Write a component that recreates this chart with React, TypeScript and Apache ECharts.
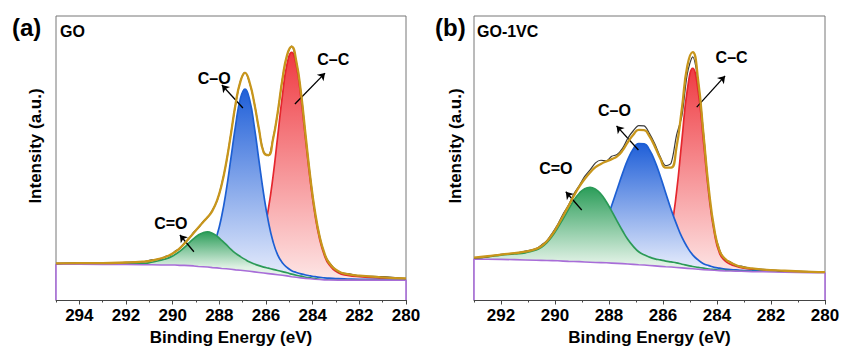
import React, { useEffect, useRef } from "react";
import * as echarts from "echarts";

const FONT = "'Liberation Sans', Arial, Helvetica, sans-serif";

// ---------- Panel (a): GO ----------
const X_A = [
  295, 294, 293, 292, 291.3, 290.9, 290.5, 290.3, 290.1, 289.9,
  289.7, 289.5, 289.3, 289.1, 288.9, 288.7, 288.5, 288.3, 288.1, 287.9,
  287.7, 287.5, 287.3, 287.1, 286.9, 286.7, 286.5, 286.3, 286.1, 285.9,
  285.7, 285.5, 285.3, 285.1, 284.9, 284.7, 284.5, 284.3, 284.1, 283.9,
  283.7, 283.5, 283.3, 282.9, 282.5, 282, 281, 280,
];
const BG_A = [
  12.6, 12.6, 12.5, 12.5, 12.4, 12.4, 12.3, 12.3, 12.3, 12.3,
  12.2, 12.2, 12.1, 12.0, 11.8, 11.7, 11.6, 11.4, 11.3, 11.1,
  11.0, 10.8, 10.6, 10.5, 10.3, 10.1, 9.9, 9.7, 9.5, 9.3,
  9.1, 8.9, 8.7, 8.5, 8.2, 8.0, 7.8, 7.6, 7.5, 7.3,
  7.2, 7.1, 7.05, 7.0, 7.0, 7.0, 7.0, 7.0,
];
const CC_A = [
  12.8, 12.8, 12.7, 12.8, 12.7, 12.7, 12.7, 12.7, 12.7, 12.7,
  12.6, 12.7, 12.6, 12.6, 12.5, 12.4, 12.4, 12.3, 12.3, 12.2,
  12.3, 12.3, 12.3, 12.5, 12.9, 13.7, 15.3, 18.4, 23.7, 32.0,
  43.4, 57.5, 71.8, 83.0, 87.2, 82.5, 70.9, 56.2, 41.8, 30.0,
  21.4, 15.8, 12.5, 9.6, 8.7, 8.2, 7.7, 7.4,
];
const CO_A = [
  12.8, 12.8, 12.8, 12.8, 12.8, 12.9, 12.9, 13.0, 13.1, 13.2,
  13.2, 13.4, 13.5, 13.7, 13.9, 14.7, 16.0, 18.4, 22.8, 29.5,
  38.8, 50.1, 61.7, 70.8, 74.3, 70.4, 61.0, 49.0, 37.3, 27.7,
  20.6, 15.9, 13.1, 11.5, 10.3, 9.7, 9.2, 8.8, 8.5, 8.2,
  8.0, 7.8, 7.7, 7.5, 7.4, 7.3, 7.2, 7.2,
];
const CDO_A = [
  12.6, 12.6, 12.55, 12.6, 12.8, 13.3, 14.0, 14.5, 15.1, 16.0,
  17.1, 18.5, 20.1, 21.6, 22.9, 23.7, 24.0, 23.5, 22.5, 21.0,
  19.5, 17.8, 16.4, 15.3, 14.3, 13.4, 12.7, 12.1, 11.6, 11.2,
  10.8, 10.4, 10.0, 9.6, 9.1, 8.7, 8.4, 8.0, 7.8, 7.5,
  7.3, 7.1, 7.05, 7.0, 7.0, 7.0, 7.0, 7.0,
];
const ENV_A = [
  12.9, 13.0, 13.0, 13.2, 13.5, 13.9, 14.7, 15.2, 15.9, 16.9,
  18.2, 19.8, 21.7, 23.6, 25.5, 27.4, 29.2, 31.4, 35.0, 40.6,
  48.6, 58.6, 69.2, 76.8, 80.0, 76.5, 69.2, 60.1, 52.0, 51.0,
  56.6, 66.0, 77.5, 86.2, 89.2, 84.0, 72.9, 57.8, 43.1, 31.1,
  22.3, 16.6, 13.1, 10.1, 9.1, 8.6, 8.0, 7.6,
];
const RAW_A = [
  12.8, 13.1, 12.9, 13.3, 13.4, 14.1, 14.5, 15.4, 15.7, 17.2,
  18.0, 20.1, 21.5, 23.9, 25.3, 27.6, 29.1, 31.6, 34.8, 40.8,
  48.4, 58.8, 69.0, 77.0, 80.2, 76.3, 69.4, 59.9, 52.2, 50.8,
  56.8, 65.8, 77.7, 86.0, 89.4, 83.8, 73.1, 57.6, 43.3, 30.9,
  22.5, 16.4, 13.3, 9.9, 9.3, 8.5, 8.2, 7.5,
];

// ---------- Panel (b): GO-1VC ----------
const X_B = [
  293, 292.5, 292, 291.5, 291.1, 290.7, 290.5, 290.3, 290.1, 289.9,
  289.7, 289.5, 289.3, 289.1, 288.9, 288.7, 288.5, 288.3, 288.1, 287.9,
  287.7, 287.5, 287.3, 287.1, 286.9, 286.7, 286.5, 286.3, 286.1, 285.9,
  285.7, 285.5, 285.3, 285.1, 284.9, 284.7, 284.5, 284.3, 284.1, 283.9,
  283.7, 283.5, 283.3, 283.1, 282.7, 282.3, 281.5, 280.5, 280,
];
const BG_B = [
  14.4, 14.35, 14.3, 14.2, 14.1, 14.0, 13.95, 13.9, 13.85, 13.8,
  13.7, 13.6, 13.55, 13.5, 13.4, 13.3, 13.2, 13.15, 13.1, 13.0,
  12.9, 12.8, 12.7, 12.55, 12.4, 12.3, 12.15, 12.0, 11.85, 11.7,
  11.6, 11.45, 11.3, 11.15, 11.0, 10.85, 10.7, 10.6, 10.45, 10.35,
  10.25, 10.2, 10.15, 10.1, 10.0, 9.95, 9.8, 9.65, 9.6,
];
const CC_B = [
  14.45, 14.4, 14.4, 14.3, 14.2, 14.1, 14.05, 14.0, 14.0, 13.9,
  13.9, 13.8, 13.7, 13.7, 13.6, 13.55, 13.5, 13.5, 13.5, 13.4,
  13.4, 13.4, 13.4, 13.4, 13.4, 13.6, 13.9, 14.4, 15.4, 17.6,
  24.8, 37.9, 56.3, 74.0, 81.6, 73.7, 55.7, 37.0, 23.7, 16.3,
  13.8, 12.6, 11.9, 11.4, 10.8, 10.5, 10.1, 9.8, 9.7,
];
const CO_B = [
  14.5, 14.5, 14.5, 14.4, 14.3, 14.3, 14.3, 14.3, 14.4, 14.4,
  14.5, 14.6, 15.1, 15.6, 16.6, 18.2, 20.6, 24.0, 28.3, 33.3,
  38.9, 44.5, 49.5, 53.2, 55.1, 55.0, 52.8, 48.8, 43.6, 37.7,
  31.9, 26.7, 22.1, 18.6, 15.9, 14.1, 12.8, 12.1, 11.5, 11.2,
  10.9, 10.7, 10.6, 10.4, 10.3, 10.2, 10.0, 9.7, 9.7,
];
const CDO_B = [
  14.8, 15.2, 15.8, 16.2, 16.6, 17.6, 18.6, 20.2, 22.5, 25.4,
  28.6, 31.9, 35.1, 37.6, 39.2, 39.7, 39.0, 37.3, 34.6, 31.3,
  27.8, 24.4, 21.3, 18.9, 17.0, 15.9, 15.1, 14.5, 14.1, 13.7,
  13.4, 13.1, 12.6, 12.2, 11.8, 11.5, 11.2, 10.9, 10.7, 10.5,
  10.4, 10.25, 10.15, 10.1, 10.0, 9.95, 9.8, 9.65, 9.6,
];
const ENV_B = [
  14.9, 15.4, 16.0, 16.5, 17.0, 18.0, 19.0, 20.7, 23.1, 26.2,
  29.6, 33.1, 36.7, 39.9, 42.6, 44.9, 46.8, 47.9, 48.8, 49.6,
  50.6, 52.6, 55.6, 58.2, 59.9, 59.8, 57.6, 54.0, 49.8, 46.6,
  46.6, 53.8, 67.5, 82.4, 87.3, 77.5, 58.3, 38.8, 24.9, 17.2,
  14.5, 13.2, 12.3, 11.7, 11.1, 10.7, 10.3, 9.9, 9.8,
];
const RAW_B = [
  14.7, 15.2, 16.1, 16.4, 17.2, 18.1, 19.4, 20.9, 23.6, 26.6,
  30.3, 33.4, 37.4, 40.3, 43.5, 45.8, 48.3, 49.2, 49.0, 50.6,
  51.2, 53.4, 57.0, 59.6, 61.4, 61.3, 58.6, 54.9, 50.4, 47.3,
  48.2, 58.0, 64.8, 79.6, 85.6, 77.0, 58.9, 38.2, 24.5, 17.5,
  14.2, 13.4, 12.1, 11.9, 11.0, 10.8, 10.2, 10.0, 9.7,
];

// Annotations: label centre, arrow tail, arrow head (data units)
const NOTES_A = [
  { text: "C–C", at: [283.12, 84.8], from: [284.76, 69.0], to: [283.47, 79.9] },
  { text: "C–O", at: [288.22, 77.9], from: [286.99, 67.6], to: [287.89, 75.7] },
  { text: "C=O", at: [290.08, 27.1], from: [289.09, 17.0], to: [289.69, 22.9] },
];
const NOTES_B = [
  { text: "C–C", at: [283.46, 85.4], from: [284.75, 67.9], to: [283.7, 78.9] },
  { text: "C–O", at: [287.8, 66.6], from: [286.91, 52.8], to: [287.72, 61.3] },
  { text: "C=O", at: [289.97, 46.4], from: [289.01, 31.7], to: [289.6, 38.1] },
];

const pairs = (xs: number[], ys: number[]) =>
  xs.slice(0, Math.min(xs.length, ys.length)).map((x, i) => [x, ys[i]]);

const COLORS = {
  red: { line: "#e5262d", top: "#ef3b42", pale: "#fde2e2" },
  blue: { line: "#1d5fd3", top: "#1f5fd8", pale: "#e2e9fb" },
  green: { line: "#2b9a57", top: "#2b9d59", pale: "#dff1e4" },
  env: "#c8961c",
  bg: "#a86dd8",
  raw: "#3a3a3a",
};

function compSeries(xs: number[], ys: number[], c: any, paleStop: number, xi: number, yi: number, z: number) {
  return {
    type: "line",
    xAxisIndex: xi,
    yAxisIndex: yi,
    z,
    data: pairs(xs, ys),
    smooth: 0.5,
    showSymbol: false,
    symbol: "none",
    silent: true,
    lineStyle: { color: c.line, width: 1.7 },
    areaStyle: {
      opacity: 1,
      color: new echarts.graphic.LinearGradient(0, 0, 0, 1, [
        { offset: 0, color: c.top },
        { offset: paleStop, color: c.pale },
        { offset: 1, color: "#ffffff" },
      ]),
    },
  };
}

function bgSeries(xs: number[], ys: number[], xi: number, yi: number, z: number) {
  const d = pairs(xs, ys);
  return {
    type: "line",
    xAxisIndex: xi,
    yAxisIndex: yi,
    z,
    data: [[xs[0], 0], ...d, [xs[xs.length - 1], 0]],
    smooth: false,
    showSymbol: false,
    symbol: "none",
    silent: true,
    lineStyle: { color: COLORS.bg, width: 1.6 },
    areaStyle: { color: "#ffffff", opacity: 1 },
  };
}

function rawSeries(xs: number[], ys: number[], xi: number, yi: number, z: number) {
  return {
    type: "line",
    xAxisIndex: xi,
    yAxisIndex: yi,
    z,
    data: pairs(xs, ys),
    smooth: 0.3,
    showSymbol: false,
    symbol: "none",
    silent: true,
    lineStyle: { color: COLORS.raw, width: 1.2 },
  };
}

function envSeries(xs: number[], ys: number[], notes: any[], xi: number, yi: number, z: number) {
  const labelStyle = {
    show: true,
    position: "inside",
    formatter: "{b}",
    color: "#000",
    fontSize: 16,
    fontWeight: "bold",
    fontFamily: FONT,
  };
  return {
    type: "line",
    xAxisIndex: xi,
    yAxisIndex: yi,
    z,
    data: pairs(xs, ys),
    smooth: 0.5,
    showSymbol: false,
    symbol: "none",
    silent: true,
    lineStyle: { color: COLORS.env, width: 2.3 },
    markLine: {
      silent: true,
      symbol: ["none", "arrow"],
      symbolSize: 7,
      label: { show: false },
      emphasis: { disabled: true },
      lineStyle: { color: "#000", width: 1.3, type: "solid" },
      data: notes.map((n) => [{ coord: n.from }, { coord: n.to }]),
    },
    markPoint: {
      silent: true,
      symbol: "circle",
      symbolSize: 1,
      itemStyle: { color: "rgba(0,0,0,0)" },
      label: labelStyle,
      emphasis: { disabled: true },
      data: notes.map((n) => ({ name: n.text, coord: n.at, value: 0 })),
    },
  };
}

function mainX(gi: number, max: number) {
  return {
    type: "value",
    gridIndex: gi,
    min: 280,
    max,
    interval: 2,
    inverse: true,
    position: "bottom",
    z: 20,
    axisLine: { show: true, onZero: false, lineStyle: { color: "#444", width: 1 } },
    axisTick: { show: true, inside: false, length: 4.5, lineStyle: { color: "#444", width: 1 } },
    axisLabel: {
      show: true,
      showMaxLabel: false,
      margin: 7,
      color: "#000",
      fontSize: 17,
      fontWeight: "bold",
      fontFamily: FONT,
    },
    splitLine: { show: false },
    name: "Binding Energy (eV)",
    nameLocation: "middle",
    nameGap: 28,
    nameTextStyle: { color: "#000", fontSize: 17, fontWeight: "bold", fontFamily: FONT },
  };
}

function minorX(gi: number, max: number) {
  return {
    type: "value",
    gridIndex: gi,
    min: 280,
    max,
    interval: 1,
    inverse: true,
    position: "bottom",
    z: 20,
    axisLine: { show: false, onZero: false },
    axisTick: { show: true, inside: false, length: 2.5, lineStyle: { color: "#444", width: 1 } },
    axisLabel: { show: false },
    splitLine: { show: false },
  };
}

function yAx(gi: number) {
  return {
    type: "value",
    gridIndex: gi,
    min: 0,
    max: 100,
    show: false,
  };
}

function txt(x: number, y: number, text: string, size: number, align: string, rot = 0) {
  return {
    type: "text",
    x,
    y,
    rotation: rot,
    silent: true,
    z: 30,
    style: {
      text,
      fill: "#000",
      font: `bold ${size}px ${FONT}`,
      textAlign: align,
      verticalAlign: "middle",
      textVerticalAlign: "middle",
    },
  };
}

export default function App() {
  const ref = useRef<HTMLDivElement>(null);

  useEffect(() => {
    if (!ref.current) return;
    const chart = echarts.init(ref.current, undefined, { renderer: "svg" });
    const option: any = {
      animation: false,
      backgroundColor: "#ffffff",
      grid: [
        { left: 56, top: 16, width: 350, height: 284, show: true, borderColor: "#777", borderWidth: 1, backgroundColor: "transparent" },
        { left: 474, top: 16, width: 351, height: 284, show: true, borderColor: "#777", borderWidth: 1, backgroundColor: "transparent" },
      ],
      xAxis: [mainX(0, 295), minorX(0, 295), mainX(1, 293), minorX(1, 293)],
      yAxis: [yAx(0), yAx(1)],
      series: [
        compSeries(X_A, CC_A, COLORS.red, 0.9, 0, 0, 2),
        compSeries(X_A, CO_A, COLORS.blue, 0.87, 0, 0, 3),
        compSeries(X_A, CDO_A, COLORS.green, 0.52, 0, 0, 4),
        bgSeries(X_A, BG_A, 0, 0, 5),
        rawSeries(X_A, RAW_A, 0, 0, 6),
        envSeries(X_A, ENV_A, NOTES_A, 0, 0, 7),

        compSeries(X_B, CC_B, COLORS.red, 0.87, 2, 1, 2),
        compSeries(X_B, CO_B, COLORS.blue, 0.78, 2, 1, 3),
        compSeries(X_B, CDO_B, COLORS.green, 0.67, 2, 1, 4),
        bgSeries(X_B, BG_B, 2, 1, 5),
        rawSeries(X_B, RAW_B, 2, 1, 6),
        envSeries(X_B, ENV_B, NOTES_B, 2, 1, 7),
      ],
      graphic: [
        txt(12, 27, "(a)", 24, "left"),
        txt(435, 27, "(b)", 24, "left"),
        txt(60, 31, "GO", 16, "left"),
        txt(477, 31, "GO-1VC", 16, "left"),
        txt(35, 146, "Intensity (a.u.)", 17, "center", Math.PI / 2),
        txt(455, 146, "Intensity (a.u.)", 17, "center", Math.PI / 2),
      ],
    };
    chart.setOption(option);
    return () => chart.dispose();
  }, []);

  return (
    <div
      ref={ref}
      style={{ position: "fixed", left: 0, top: 0, width: 843, height: 351, background: "#fff" }}
    />
  );
}
